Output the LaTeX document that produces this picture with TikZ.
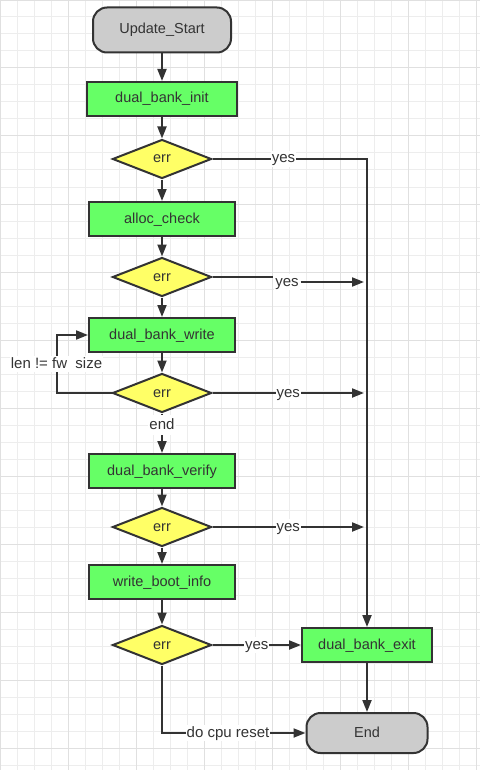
\documentclass[tikz,border=0pt]{standalone}
\usepackage{fontspec}
\setmainfont{Liberation Sans}
\usetikzlibrary{shapes.geometric,arrows.meta}

\definecolor{gridmin}{HTML}{EDEDED}
\definecolor{gridmaj}{HTML}{E0E0E0}
\definecolor{edge}{HTML}{333333}
\definecolor{termgray}{HTML}{CCCCCC}
\definecolor{procgreen}{HTML}{66FF66}
\definecolor{condyellow}{HTML}{FFFF66}

\begin{document}
\begin{tikzpicture}[x=1pt, y=-1pt, node distance=58pt, line width=2pt, draw=edge,
>={Triangle[length=12pt,width=9pt]},
every node/.style={text=edge, text height=11pt, text depth=3pt, font=\fontsize{14.5}{17}\selectfont},
term/.style={draw=edge, fill=termgray, rectangle, rounded corners=14pt, minimum height=40pt},
proc/.style={draw=edge, fill=procgreen, rectangle, minimum width=146pt, minimum height=34pt},
cond/.style={draw=edge, fill=condyellow, diamond, inner sep=0pt, minimum width=99pt, minimum height=39pt},
lbl/.style={fill=white, inner sep=1pt, font=\fontsize{15}{17}\selectfont}]

\useasboundingbox (0,0) rectangle (480,770);
% background grid
\draw[gridmin, line width=1pt, step=17pt] (0,770) grid (480,0);
\draw[gridmaj, line width=1pt, step=68pt] (0,770) grid (480,0);

\node[term, minimum width=138pt, minimum height=45pt] (start) at (162,30) {Update\_Start};
\node[proc, minimum width=150pt, node distance=69pt, below of=start] (init) {dual\_bank\_init};
\node[cond, node distance=60pt, below of=init] (d1) {err};
\node[proc, node distance=60pt, below of=d1] (alloc) {alloc\_check};
\node[cond, below of=alloc] (d2) {err};
\node[proc, below of=d2] (write) {dual\_bank\_write};
\node[cond, below of=write] (d3) {err};
\node[proc, node distance=78pt, below of=d3] (verify) {dual\_bank\_verify};
\node[cond, node distance=56pt, below of=verify] (d4) {err};
\node[proc, node distance=55pt, below of=d4] (boot) {write\_boot\_info};
\node[cond, node distance=63pt, below of=boot] (d5) {err};
\node[proc, minimum width=130pt, node distance=205pt, right of=d5] (exit) {dual\_bank\_exit};
\node[term, minimum width=121pt, node distance=88pt, below of=exit] (stop) {End};

\coordinate (a2) at (364,282);
\coordinate (a3) at (364,393);
\coordinate (a4) at (364,527);

\draw[->] (start) -- (init);
\draw[->] (init) -- (d1);
\draw[->] (d1) -- (alloc);
\draw[->] (alloc) -- (d2);
\draw[->] (d2) -- (write);
\draw[->] (write) -- (d3);
\draw[->] (d3) -- node[lbl, inner ysep=3pt, pos=0.3] (endl) {end} (verify);
\draw[->] (verify) -- (d4);
\draw[->] (d4) -- (boot);
\draw[->] (boot) -- (d5);
\draw[->] (exit) -- (stop);

% error exits
\draw[->] (d1.east) -| node[lbl, pos=0.23] (y1) {yes} (exit.north);
\node[lbl] (y2) at (287,282) {yes};
\draw (d2.east) -- (d2.east -| y2.west);
\draw[->] (y2) -- (a2);
\draw[->] (d3) -- node[lbl] (y3) {yes} (a3);
\draw[->] (d4) -- node[lbl] (y4) {yes} (a4);
\draw[->] (d5) -- node[lbl] (y5) {yes} (exit);
\draw[->] (d5) |- node[lbl, pos=0.73] (rst) {do cpu reset} (stop);

% write loop
\draw[->] (d3.west) -- ++(-55,0) |- node[lbl, pos=0.25] (len) {len != fw\phantom{\_}size} (write.west);

\end{tikzpicture}
\end{document}
